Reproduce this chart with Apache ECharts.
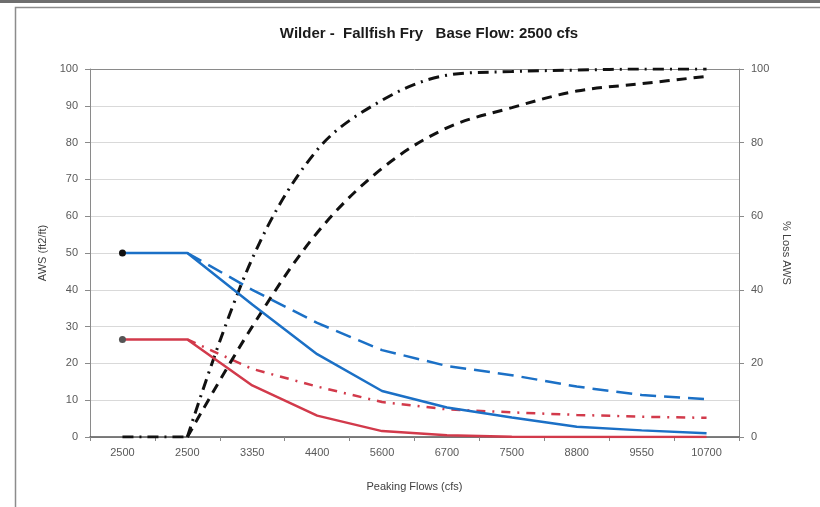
<!DOCTYPE html>
<html>
<head>
<meta charset="utf-8">
<script src="https://cdn.jsdelivr.net/npm/echarts@6/dist/echarts.min.js"></script>
<style>
html,body{margin:0;padding:0;background:#fff;}
#c{width:820px;height:507px;}
</style>
</head>
<body>
<div id="c"></div>
<script>
// ---- data ----
var categories = ['2500','2500','3350','4400','5600','6700','7500','8800','9550','10700'];
var awsSolidBlue  = [50, 50, 36, 22.5, 12.5, 8, 5.3, 2.8, 1.8, 1];
var awsDashBlue   = [null, 50, 40, 31, 23.6, 19.3, 16.8, 13.7, 11.4, 10.3];
var awsSolidRed   = [26.5, 26.5, 14, 5.8, 1.6, 0.5, 0.1, 0, 0, 0];
var awsDashDotRed = [null, 26.5, 18.5, 13.7, 9.5, 7.5, 6.7, 6, 5.5, 5.2];
var lossDashDot   = [0, 0, 48.5, 78, 91.5, 98.3, 99.3, 99.7, 100, 100];
var lossDashed    = [0, 0, 30, 55.5, 73, 84, 89.5, 94, 96, 98];
var leftTicks = {min: 0, max: 100, interval: 10};
var rightTicks = {min: 0, max: 100, interval: 20};

var FONT = '"Liberation Sans", Arial, sans-serif';
var BLUE = '#1b70c6';
var RED = '#d23a4b';

function withMarker(arr, color) {
  return arr.map(function (v, i) {
    if (i === 0) return {value: v, symbol: 'circle', symbolSize: 7, itemStyle: {color: color}};
    return v;
  });
}
// curve part: from the second category on (smoothed); flat start: first two values
function curvePart(arr) { return arr.map(function (v, i) { return i === 0 ? null : v; }); }
function startPart(arr) { return arr.map(function (v, i) { return i <= 1 ? v : null; }); }

var splitColors = [];
for (var i = 0; i <= 10; i++) splitColors.push(i === 10 ? '#8a8a8a' : '#d9d9d9');

var chart = echarts.init(document.getElementById('c'));
chart.setOption({
  animation: false,
  backgroundColor: '#fff',
  textStyle: {fontFamily: FONT},
  graphic: [
    {type: 'rect', shape: {x: 0, y: 0, width: 820, height: 3}, style: {fill: '#6e6e6e'}, z: 100},
    {type: 'rect', shape: {x: 15.5, y: 7.5, width: 830, height: 520}, style: {fill: 'none', stroke: '#8c8c8c', lineWidth: 1.5}, z: 100}
  ],
  title: {
    text: 'Wilder -  Fallfish Fry   Base Flow: 2500 cfs',
    left: 424, top: 21, textAlign: 'center',
    textStyle: {fontFamily: FONT, fontSize: 15, fontWeight: 'bold', color: '#1a1a1a'}
  },
  grid: {left: 90, right: 81, top: 69, bottom: 70},
  xAxis: {
    type: 'category',
    data: categories,
    boundaryGap: true,
    name: 'Peaking Flows (cfs)',
    nameLocation: 'middle',
    nameGap: 44,
    nameTextStyle: {fontFamily: FONT, fontSize: 11, color: '#404040'},
    axisLine: {lineStyle: {color: '#555', width: 1.5}},
    axisTick: {show: true, length: 4, lineStyle: {color: '#888'}},
    axisLabel: {fontFamily: FONT, fontSize: 11, color: '#595959', margin: 10},
    splitLine: {show: false}
  },
  yAxis: [
    {
      type: 'value', min: leftTicks.min, max: leftTicks.max, interval: leftTicks.interval,
      name: 'AWS (ft2/ft)', nameLocation: 'middle', nameGap: 38, nameRotate: 90,
      nameTextStyle: {fontFamily: FONT, fontSize: 11, color: '#404040'},
      axisLine: {show: true, lineStyle: {color: '#8a8a8a'}},
      axisTick: {show: true, length: 5, lineStyle: {color: '#8a8a8a'}},
      axisLabel: {fontFamily: FONT, fontSize: 11, color: '#595959', margin: 12},
      splitLine: {show: true, lineStyle: {color: splitColors, width: 1}}
    },
    {
      type: 'value', min: rightTicks.min, max: rightTicks.max, interval: rightTicks.interval,
      position: 'right',
      name: '% Loss AWS', nameLocation: 'middle', nameGap: 38, nameRotate: -90,
      nameTextStyle: {fontFamily: FONT, fontSize: 11, color: '#404040'},
      axisLine: {show: true, lineStyle: {color: '#8a8a8a'}},
      axisTick: {show: true, length: 5, lineStyle: {color: '#8a8a8a'}},
      axisLabel: {fontFamily: FONT, fontSize: 11, color: '#595959', margin: 12},
      splitLine: {show: false}
    }
  ],
  series: [
    {
      name: 'loss dashdot', type: 'line', yAxisIndex: 1, data: curvePart(lossDashDot),
      smooth: 0.35, symbol: 'none', z: 3,
      lineStyle: {color: '#111', width: 3, type: [11, 6, 2, 6]}
    },
    {
      name: 'loss dashdot start', type: 'line', yAxisIndex: 1, data: startPart(lossDashDot),
      symbol: 'none', z: 3,
      lineStyle: {color: '#111', width: 3, type: [11, 6, 2, 6]}
    },
    {
      name: 'loss dashed', type: 'line', yAxisIndex: 1, data: curvePart(lossDashed),
      smooth: 0.35, symbol: 'none', z: 3,
      lineStyle: {color: '#111', width: 3, type: [10, 7]}
    },
    {
      name: 'aws dash blue', type: 'line', data: awsDashBlue,
      symbol: 'none', z: 2, connectNulls: false,
      lineStyle: {color: BLUE, width: 2.5, type: [16, 8]}
    },
    {
      name: 'aws dashdot red', type: 'line', data: awsDashDotRed,
      symbol: 'none', z: 2,
      lineStyle: {color: RED, width: 2.5, type: [9, 7, 2, 7]}
    },
    {
      name: 'aws solid blue', type: 'line', data: withMarker(awsSolidBlue, '#111'),
      symbol: 'none', showSymbol: true, z: 4,
      lineStyle: {color: BLUE, width: 2.5}
    },
    {
      name: 'aws solid red', type: 'line', data: withMarker(awsSolidRed, '#555'),
      symbol: 'none', showSymbol: true, z: 4,
      lineStyle: {color: RED, width: 2.5}
    }
  ]
});
</script>
</body>
</html>
